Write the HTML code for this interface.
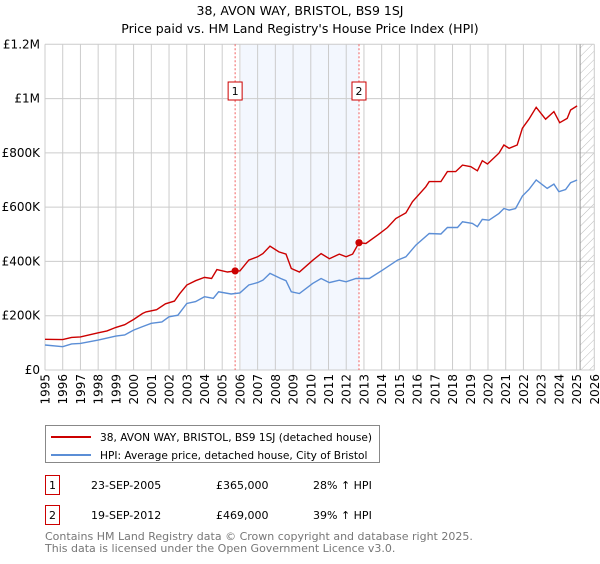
<!DOCTYPE html>
<html><head><meta charset="utf-8"><style>
body{margin:0;background:#fff;font-family:"DejaVu Sans","Liberation Sans",sans-serif;}
svg text{font-family:"DejaVu Sans","Liberation Sans",sans-serif;}
</style></head><body>
<svg id="chart" width="600" height="560" xmlns="http://www.w3.org/2000/svg">
<defs><pattern id="hatch" width="6" height="6" patternUnits="userSpaceOnUse" patternTransform="rotate(45)"><line x1="0" y1="0" x2="0" y2="6" stroke="#bbb" stroke-width="1"/></pattern></defs>
<text x="300" y="15" text-anchor="middle" font-size="12.5">38, AVON WAY, BRISTOL, BS9 1SJ</text>
<text x="300" y="33" text-anchor="middle" font-size="12.5">Price paid vs. HM Land Registry's House Price Index (HPI)</text>
<g id="plot"></g>
<g>
<rect x="45.5" y="425.5" width="334" height="37" fill="#fff" stroke="#888"/>
<line x1="51" y1="437" x2="91" y2="437" stroke="#cc0000" stroke-width="2"/>
<text x="100" y="441" font-size="10.6">38, AVON WAY, BRISTOL, BS9 1SJ (detached house)</text>
<line x1="51" y1="455" x2="91" y2="455" stroke="#5b8ed6" stroke-width="2"/>
<text x="100" y="459" font-size="10.6">HPI: Average price, detached house, City of Bristol</text>
</g>
<g font-size="11">
<rect x="45.5" y="475.5" width="14" height="19" fill="#fff" stroke="#cc0000"/><text x="52.5" y="489" text-anchor="middle">1</text>
<text x="91" y="489">23-SEP-2005</text><text x="216" y="489">£365,000</text><text x="313" y="489">28% ↑ HPI</text>
<rect x="45.5" y="505.5" width="14" height="19" fill="#fff" stroke="#cc0000"/><text x="52.5" y="519" text-anchor="middle">2</text>
<text x="91" y="519">19-SEP-2012</text><text x="216" y="519">£469,000</text><text x="313" y="519">39% ↑ HPI</text>
</g>
<text x="45" y="540" font-size="11" fill="#777">Contains HM Land Registry data © Crown copyright and database right 2025.</text>
<text x="45" y="552" font-size="11" fill="#777">This data is licensed under the Open Government Licence v3.0.</text>
</svg>
<script>
const redYears=[1995,1996,1996.5,1997,1998,1998.5,1999,1999.5,2000,2000.5,2000.7,2001.3,2001.8,2002.3,2002.6,2003,2003.5,2004,2004.4,2004.7,2005.3,2005.73,2006,2006.5,2007,2007.3,2007.7,2008.2,2008.6,2008.9,2009.36,2010.11,2010.58,2011.05,2011.61,2011.99,2012.36,2012.72,2013.11,2013.77,2014.33,2014.8,2015.37,2015.74,2016.49,2016.68,2017.34,2017.71,2018.18,2018.56,2019.03,2019.4,2019.68,2019.97,2020.62,2020.9,2021.19,2021.65,2021.94,2022.31,2022.72,2023.25,2023.72,2024.05,2024.47,2024.66,2025.03];
const redValues=[113,112,120,122,137,144,157,167,186,208,214,222,244,254,281,313,329,341,337,370,361,365,365,405,417,429,456,435,427,374,361,404,429,410,427,417,427,469,466,497,525,558,579,620,675,694,694,731,731,755,749,734,771,759,799,829,817,829,891,924,968,924,952,911,927,958,973];
const blueYears=[1995,1996,1996.5,1997,1998,1999,1999.5,2000,2000.5,2001,2001.6,2002,2002.5,2003,2003.5,2004,2004.5,2004.8,2005.5,2006,2006.5,2007,2007.3,2007.7,2008.3,2008.6,2008.9,2009.36,2010.11,2010.58,2011.05,2011.61,2011.99,2012.55,2013.3,2014.05,2014.9,2015.37,2015.93,2016.68,2017.34,2017.71,2018.28,2018.56,2019.12,2019.4,2019.68,2020.06,2020.62,2020.9,2021.19,2021.56,2021.94,2022.31,2022.72,2023.34,2023.72,2024.0,2024.38,2024.66,2025.03];
const blueValues=[92,86,96,98,110,125,129,147,160,172,177,196,202,245,252,270,264,288,280,284,313,322,331,356,337,329,288,282,319,337,322,331,325,337,337,368,405,417,460,503,501,525,525,546,540,528,555,552,577,595,589,595,641,665,700,669,685,657,665,690,700];
const yTicks=[0,200,400,600,800,1000,1200];
const yLabels=["£0","£200K","£400K","£600K","£800K","£1M","£1.2M"];
const xTicks=[1995,1996,1997,1998,1999,2000,2001,2002,2003,2004,2005,2006,2007,2008,2009,2010,2011,2012,2013,2014,2015,2016,2017,2018,2019,2020,2021,2022,2023,2024,2025,2026];
const saleYears=[2005.73,2012.72];
const saleValues=[365,469];
const saleLabels=["1","2"];
const shadeRange=[2006.05,2012.72];
const hatchStart=2025.2;

const X0=45,X1=594.3,Y0=370,Y1=44.3;
const x=y=>X0+(y-1995)/(2026-1995)*(X1-X0);
const yv=v=>Y0-v/1200*(Y0-Y1);
const NS="http://www.w3.org/2000/svg";
const g=document.getElementById('plot');
function mk(t,a){const e=document.createElementNS(NS,t);for(const k in a)e.setAttribute(k,a[k]);g.appendChild(e);return e;}
let e;
e=mk('rect',{x:x(shadeRange[0]),y:Y1,width:x(shadeRange[1])-x(shadeRange[0]),height:Y0-Y1,fill:'#eef3fd',opacity:0.7});


e=mk('rect',{x:x(hatchStart),y:Y1,width:X1-x(hatchStart),height:Y0-Y1,fill:'url(#hatch)'});


yTicks.forEach((t,i)=>{
 e=mk('line',{x1:X0,x2:X1,y1:yv(t),y2:yv(t),stroke:'#ccc','stroke-width':1});
 
 
 e=mk('text',{x:X0-5,y:yv(t)+4,'text-anchor':'end','font-size':12});
 e.textContent=yLabels[i];
 
 
});
xTicks.forEach(t=>{
 e=mk('line',{x1:x(t),x2:x(t),y1:Y1,y2:Y0,stroke:'#ccc','stroke-width':1});
 
 
 e=mk('text',{x:0,y:0,'text-anchor':'end','font-size':12,transform:`translate(${x(t)+4.5},374) rotate(-90)`});
 e.textContent=t;
 
 
});
e=mk('line',{x1:x(hatchStart),x2:x(hatchStart),y1:Y1,y2:Y0,stroke:'#999','stroke-width':1});


saleYears.forEach((s,i)=>{
 e=mk('line',{x1:x(s),x2:x(s),y1:Y1,y2:Y0,stroke:'#f06060','stroke-width':1,'stroke-dasharray':'2,2'});
 
 
 e=mk('rect',{x:x(s)-7,y:82,width:14,height:18,fill:'#fff',stroke:'#cc0000'});
 
 
 e=mk('text',{x:x(s),y:95,'text-anchor':'middle','font-size':11});
 e.textContent=saleLabels[i];
 
 
});
const pts=(ys,vs)=>ys.map((y,i)=>x(y).toFixed(1)+','+yv(vs[i]).toFixed(1)).join(' ');
e=mk('polyline',{points:pts(blueYears,blueValues),fill:'none',stroke:'#5b8ed6','stroke-width':1.4});


e=mk('polyline',{points:pts(redYears,redValues),fill:'none',stroke:'#cc0000','stroke-width':1.4});


saleYears.forEach((s,i)=>{
 e=mk('circle',{cx:x(s),cy:yv(saleValues[i]),r:3.6,fill:'#cc0000'});
 
 
});
</script>
</body></html>
